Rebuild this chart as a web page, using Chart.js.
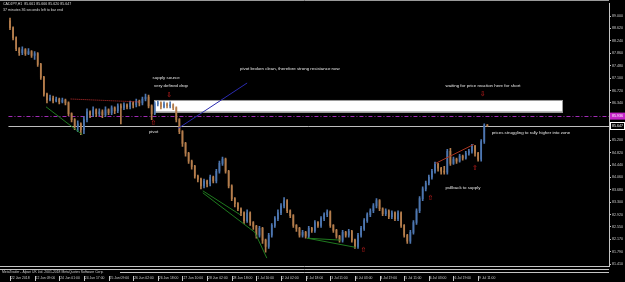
<!DOCTYPE html>
<html>
<head>
<meta charset="utf-8">
<title>CADJPY,H1</title>
<script src="https://cdn.jsdelivr.net/npm/chart.js@4.4.1/dist/chart.umd.min.js"></script>
<style>
  html, body { margin: 0; padding: 0; background: #000; }
</style>
</head>
<body>
<canvas id="myChart" width="625" height="282"></canvas>
<script>
// CADJPY H1 candles (one entry per bar)
var open = [88.85, 88.64, 88.33, 88.00, 87.88, 87.97, 87.85, 87.91, 87.79, 87.85,
  87.52, 87.12, 86.61, 86.43, 86.49, 86.40, 86.46, 86.37, 86.43, 86.34,
  86.01, 85.83, 85.61, 85.70, 85.52, 85.83, 86.07, 85.98, 86.13, 86.01,
  86.07, 85.98, 86.13, 86.04, 86.19, 86.10, 86.25, 86.19, 86.28, 86.22,
  86.34, 86.28, 86.40, 86.34, 86.46, 86.52, 86.25, 86.01, 86.31, 86.34,
  86.22, 86.31, 86.25, 86.28, 86.19, 85.83, 85.46, 85.10, 84.80, 84.56,
  84.40, 84.10, 84.01, 83.80, 83.95, 83.86, 84.07, 83.95, 84.25, 84.49,
  84.62, 84.25, 83.80, 83.41, 83.26, 83.10, 82.98, 82.74, 82.98, 82.68,
  82.56, 82.29, 82.50, 82.14, 81.95, 82.29, 82.59, 82.80, 82.98, 83.19,
  83.35, 83.04, 82.89, 82.59, 82.50, 82.29, 82.38, 82.26, 82.50, 82.44,
  82.68, 82.59, 82.80, 82.92, 83.01, 82.59, 82.44, 82.26, 82.14, 82.38,
  82.29, 82.41, 82.14, 81.95, 82.29, 82.50, 82.74, 82.92, 83.04, 83.19,
  83.35, 83.10, 82.95, 83.04, 82.86, 82.98, 82.80, 82.98, 82.59, 82.29,
  82.11, 82.38, 82.68, 83.04, 83.41, 83.71, 83.89, 84.07, 84.25, 84.46,
  84.34, 84.25, 84.22, 84.86, 84.49, 84.62, 84.56, 84.71, 84.65, 84.80,
  84.86, 85.01, 84.80, 84.62, 85.16, 85.661];

var high = [88.94, 88.67, 88.36, 88.03, 88.06, 88.00, 88.00, 87.94, 87.91, 87.88,
  87.55, 87.15, 86.64, 86.58, 86.55, 86.52, 86.49, 86.49, 86.46, 86.37,
  86.04, 85.86, 85.79, 85.73, 85.92, 86.16, 86.10, 86.22, 86.16, 86.16,
  86.13, 86.22, 86.16, 86.25, 86.22, 86.31, 86.31, 86.34, 86.31, 86.40,
  86.37, 86.46, 86.43, 86.52, 86.61, 86.58, 86.28, 86.37, 86.40, 86.37,
  86.37, 86.34, 86.37, 86.31, 86.22, 85.86, 85.49, 85.13, 84.83, 84.59,
  84.43, 84.13, 84.04, 84.01, 83.98, 84.13, 84.10, 84.31, 84.56, 84.68,
  84.65, 84.28, 83.83, 83.44, 83.29, 83.13, 83.01, 83.07, 83.01, 82.71,
  82.59, 82.56, 82.53, 82.17, 82.35, 82.65, 82.86, 83.07, 83.26, 83.44,
  83.38, 83.07, 82.92, 82.62, 82.53, 82.44, 82.41, 82.56, 82.53, 82.74,
  82.71, 82.86, 82.98, 83.07, 83.04, 82.62, 82.47, 82.29, 82.44, 82.41,
  82.47, 82.44, 82.17, 82.35, 82.56, 82.80, 82.98, 83.10, 83.26, 83.41,
  83.38, 83.13, 83.10, 83.07, 83.04, 83.01, 83.04, 83.01, 82.62, 82.32,
  82.44, 82.74, 83.10, 83.47, 83.77, 83.95, 84.13, 84.31, 84.53, 84.49,
  84.37, 84.40, 84.92, 84.95, 84.68, 84.65, 84.77, 84.74, 84.86, 84.92,
  85.07, 85.04, 84.83, 85.22, 85.70, 85.666];

var low = [88.58, 88.27, 87.94, 87.79, 87.82, 87.79, 87.82, 87.73, 87.67, 87.46,
  87.06, 86.55, 86.34, 86.40, 86.34, 86.37, 86.31, 86.34, 86.28, 85.95,
  85.76, 85.52, 85.46, 85.37, 85.40, 85.76, 85.89, 85.92, 85.92, 85.95,
  85.89, 85.92, 85.98, 85.98, 86.01, 86.04, 85.70, 86.13, 86.16, 86.16,
  86.19, 86.22, 86.25, 86.28, 86.40, 86.19, 85.83, 85.98, 86.25, 86.16,
  86.19, 86.19, 86.19, 86.13, 85.76, 85.40, 85.01, 84.71, 84.49, 84.31,
  84.04, 83.92, 83.71, 83.74, 83.77, 83.80, 83.89, 83.89, 84.19, 84.43,
  84.19, 83.74, 83.35, 83.16, 83.04, 82.89, 82.65, 82.68, 82.59, 82.47,
  82.20, 82.23, 82.04, 81.77, 81.89, 82.23, 82.53, 82.74, 82.92, 83.13,
  82.98, 82.83, 82.53, 82.41, 82.23, 82.23, 82.20, 82.20, 82.38, 82.38,
  82.53, 82.53, 82.74, 82.86, 82.53, 82.38, 82.20, 82.08, 82.08, 82.23,
  82.23, 82.08, 81.89, 81.89, 82.23, 82.44, 82.68, 82.86, 82.98, 83.13,
  83.04, 82.89, 82.89, 82.80, 82.80, 82.74, 82.74, 82.53, 82.23, 82.04,
  82.04, 82.32, 82.62, 82.98, 83.35, 83.65, 83.83, 84.01, 84.19, 84.25,
  84.16, 84.16, 84.16, 84.43, 84.46, 84.49, 84.53, 84.59, 84.62, 84.74,
  84.80, 84.71, 84.56, 84.56, 85.10, 85.620];

var close = [88.64, 88.33, 88.00, 87.88, 87.97, 87.85, 87.91, 87.79, 87.85, 87.52,
  87.12, 86.61, 86.43, 86.49, 86.40, 86.46, 86.37, 86.43, 86.34, 86.01,
  85.83, 85.61, 85.70, 85.52, 85.83, 86.07, 85.98, 86.13, 86.01, 86.07,
  85.98, 86.13, 86.04, 86.19, 86.10, 86.25, 86.19, 86.28, 86.22, 86.34,
  86.28, 86.40, 86.34, 86.46, 86.52, 86.25, 86.01, 86.31, 86.34, 86.22,
  86.31, 86.25, 86.28, 86.19, 85.83, 85.46, 85.10, 84.80, 84.56, 84.40,
  84.10, 84.01, 83.80, 83.95, 83.86, 84.07, 83.95, 84.25, 84.49, 84.62,
  84.25, 83.80, 83.41, 83.26, 83.10, 82.98, 82.74, 82.98, 82.68, 82.56,
  82.29, 82.50, 82.14, 81.95, 82.29, 82.59, 82.80, 82.98, 83.19, 83.35,
  83.04, 82.89, 82.59, 82.50, 82.29, 82.38, 82.26, 82.50, 82.44, 82.68,
  82.59, 82.80, 82.92, 83.01, 82.59, 82.44, 82.26, 82.14, 82.38, 82.29,
  82.41, 82.14, 81.95, 82.29, 82.50, 82.74, 82.92, 83.04, 83.19, 83.35,
  83.10, 82.95, 83.04, 82.86, 82.98, 82.80, 82.98, 82.59, 82.29, 82.11,
  82.38, 82.68, 83.04, 83.41, 83.71, 83.89, 84.07, 84.25, 84.46, 84.34,
  84.25, 84.22, 84.86, 84.49, 84.62, 84.56, 84.71, 84.65, 84.80, 84.86,
  85.01, 84.80, 84.62, 85.16, 85.66, 85.647];

// time axis labels, one every 8 bars here
var timeLabels = ['22 Jun 2018', '22 Jun 09:00', '24 Jun 01:00', '24 Jun 17:00', '25 Jun 09:00',
  '26 Jun 02:00', '26 Jun 18:00', '27 Jun 10:00', '28 Jun 02:00', '28 Jun 18:00',
  '1 Jul 10:00', '2 Jul 02:00', '2 Jul 18:00', '3 Jul 11:00', '4 Jul 03:00',
  '4 Jul 19:00', '5 Jul 11:00', '6 Jul 03:00', '6 Jul 19:00', '9 Jul 11:00'];
var labelEvery = 8;
var totalSlots = 195;

// right price scale
var priceTicks = [89.000, 88.620, 88.240, 87.860, 87.480, 87.100, 86.720, 86.340,
  85.200, 84.820, 84.440, 84.060, 83.680, 83.300, 82.920, 82.550, 82.170, 81.790, 81.410];

var bidPrice = 85.647;
var levelPrice = 85.936;
var zone = { fromBar: 46.9, toBar: 179.5, top: 86.43, bottom: 86.07 };

var notes = [
  { text: 'supply source', bar: 50.7, price: 87.10, align: 'center' },
  { text: 'very defined drop', bar: 52.3, price: 86.85, align: 'center' },
  { text: 'pivot broken clean, therefore strong resistance now', bar: 74.7, price: 87.37, align: 'left' },
  { text: 'pivot', bar: 46.6, price: 85.46, align: 'center' },
  { text: 'waiting for price reaction here for short', bar: 141.4, price: 86.85, align: 'left' },
  { text: 'prices struggling to rally higher into zone', bar: 156.4, price: 85.43, align: 'left' },
  { text: 'pullback to supply', bar: 141.4, price: 83.74, align: 'left' }
];

var arrows = [
  { bar: 51.7, price: 86.58, glyph: '\u21e9' },
  { bar: 46.6, price: 85.73, glyph: '\u21e7' },
  { bar: 153.5, price: 86.61, glyph: '\u21e9' },
  { bar: 114.8, price: 81.83, glyph: '\u21e7' },
  { bar: 136.5, price: 83.41, glyph: '\u21e7' },
  { bar: 151.0, price: 84.34, glyph: '\u21e7' }
];

var trendLines = [
  { pts: [[54.6, 85.56], [77.0, 86.95]], color: '#2b2bb0' },
  { pts: [[19.7, 86.46], [42.1, 86.37]], color: '#c83030', dash: [1, 1] },
  { pts: [[11.7, 86.22], [23.5, 85.37]], color: '#1f7a1f' },
  { pts: [[62.6, 83.65], [74.7, 82.92]], color: '#1f7a1f' },
  { pts: [[62.6, 83.59], [79.5, 82.38], [83.4, 81.59]], color: '#1f7a1f' },
  { pts: [[96.5, 82.20], [107.4, 82.14]], color: '#1f7a1f' },
  { pts: [[96.5, 82.20], [112.2, 81.92]], color: '#1f7a1f' },
  { pts: [[138.2, 84.49], [150.6, 85.07]], color: '#a83420' }
];

var upColor = '#4d76b0';
var downColor = '#b47d4c';
var font = 'Liberation Sans, Arial, sans-serif';

function candleColor(ctx) {
  var i = ctx.dataIndex;
  return close[i] >= open[i] ? upColor : downColor;
}

var overlay = {
  id: 'mt4Overlay',
  beforeDraw: function (chart) {
    var c = chart.ctx;
    c.save();
    c.fillStyle = '#000';
    c.fillRect(0, 0, chart.width, chart.height);
    c.restore();
  },
  beforeDatasetsDraw: function (chart) {
    var c = chart.ctx, xs = chart.scales.x, ys = chart.scales.y, a = chart.chartArea;
    c.save();
    // supply zone
    var x1 = xs.getPixelForValue(zone.fromBar), x2 = xs.getPixelForValue(zone.toBar);
    var y1 = ys.getPixelForValue(zone.top), y2 = ys.getPixelForValue(zone.bottom);
    c.fillStyle = '#ffffff';
    c.fillRect(x1, y1, x2 - x1, y2 - y1);
    c.strokeStyle = '#9a9a9a';
    c.lineWidth = 1;
    c.strokeRect(Math.round(x1) + 0.5, Math.round(y1) + 0.5, Math.round(x2 - x1), Math.round(y2 - y1));

    // dash-dot level
    var ly = Math.round(ys.getPixelForValue(levelPrice)) + 0.5;
    c.strokeStyle = '#a02cb4';
    c.setLineDash([4, 2, 1, 2]);
    c.beginPath(); c.moveTo(a.left, ly); c.lineTo(a.right, ly); c.stroke();
    c.setLineDash([]);

    // bid line
    var by = Math.round(ys.getPixelForValue(bidPrice)) + 0.5;
    c.strokeStyle = '#bdbdbd';
    c.beginPath(); c.moveTo(a.left, by); c.lineTo(a.right, by); c.stroke();
    c.restore();
  },
  afterDatasetsDraw: function (chart) {
    var c = chart.ctx, xs = chart.scales.x, ys = chart.scales.y;
    c.save();
    c.lineWidth = 1;
    trendLines.forEach(function (t) {
      c.strokeStyle = t.color;
      c.setLineDash(t.dash || []);
      c.beginPath();
      t.pts.forEach(function (p, k) {
        var px = xs.getPixelForValue(p[0]), py = ys.getPixelForValue(p[1]);
        if (k === 0) c.moveTo(px, py); else c.lineTo(px, py);
      });
      c.stroke();
    });
    c.setLineDash([]);
    c.restore();
  },
  afterDraw: function (chart) {
    var c = chart.ctx, xs = chart.scales.x, ys = chart.scales.y, a = chart.chartArea;
    c.save();

    // notes
    c.fillStyle = '#e6e6e6';
    c.font = '4.4px ' + font;
    c.textBaseline = 'middle';
    notes.forEach(function (n) {
      c.textAlign = n.align;
      c.fillText(n.text, xs.getPixelForValue(n.bar), ys.getPixelForValue(n.price));
    });

    // fractal arrows
    c.fillStyle = '#d82020';
    c.font = '7px DejaVu Sans';
    c.textAlign = 'center';
    arrows.forEach(function (ar) {
      c.fillText(ar.glyph, xs.getPixelForValue(ar.bar), ys.getPixelForValue(ar.price));
    });

    // header
    c.fillStyle = '#d8d8d8';
    c.font = '3.6px ' + font;
    c.textAlign = 'left';
    c.fillText('CADJPY,H1  85.661 85.666 85.620 85.647', 3, 4);
    c.fillText('37 minutes 36 seconds left to bar end', 3, 9.5);

    // frame
    c.strokeStyle = '#9a9a9a';
    c.lineWidth = 1;
    c.beginPath(); c.moveTo(0, 0.5); c.lineTo(a.right, 0.5); c.stroke();

    // sub-window separators
    c.strokeStyle = '#c4c4c4';
    [266.5, 269.5, 272.5].forEach(function (yy) {
      c.beginPath(); c.moveTo(0, yy); c.lineTo(a.right, yy); c.stroke();
    });
    c.fillStyle = '#000';
    c.fillRect(0, 270, 120, 5);
    c.fillStyle = '#d0d0d0';
    c.font = '3.4px ' + font;
    c.fillText('MetaTrader - Alpari UK Ltd. 2001-2018 MetaQuotes Software Corp.', 2, 272.5);

    // time tick marks
    c.strokeStyle = '#c4c4c4';
    timeLabels.forEach(function (t, k) {
      var tx = Math.round(xs.getPixelForValue(k * labelEvery)) + 0.5;
      c.beginPath(); c.moveTo(tx, 276); c.lineTo(tx, 281); c.stroke();
    });

    // price boxes on the axis
    var ly = ys.getPixelForValue(levelPrice);
    c.fillStyle = '#c424c8';
    c.fillRect(a.right + 1, ly - 3.5, 15, 7);
    c.fillStyle = '#ffffff';
    c.font = '3.6px ' + font;
    c.textAlign = 'left';
    c.fillText(levelPrice.toFixed(3), a.right + 3, ly);

    var by = ys.getPixelForValue(bidPrice);
    c.fillStyle = '#000';
    c.fillRect(a.right + 1, by - 3.5, 15, 7);
    c.strokeStyle = '#ffffff';
    c.strokeRect(a.right + 1.5, Math.round(by - 3.5) + 0.5, 14, 7);
    c.fillStyle = '#ffffff';
    c.fillText(bidPrice.toFixed(3), a.right + 3, by);
    c.restore();
  }
};

var bars = open.map(function (o, i) { return i; });

var ctx = document.getElementById('myChart').getContext('2d');
var chart = new Chart(ctx, {
  type: 'bar',
  data: {
    datasets: [
      {
        label: 'wick',
        data: bars.map(function (i) { return { x: i, y: [low[i], high[i]] }; }),
        backgroundColor: candleColor,
        barThickness: 1,
        grouped: false,
        order: 2
      },
      {
        label: 'body',
        data: bars.map(function (i) { return { x: i, y: [open[i], close[i]] }; }),
        backgroundColor: candleColor,
        barThickness: 1,
        minBarLength: 1,
        grouped: false,
        order: 1
      }
    ]
  },
  options: {
    responsive: false,
    animation: false,
    devicePixelRatio: 1,
    layout: { padding: 0 },
    plugins: { legend: { display: false }, tooltip: { enabled: false } },
    scales: {
      x: {
        type: 'linear',
        min: -0.5,
        max: totalSlots - 0.5,
        offset: false,
        grid: { display: false, drawTicks: false },
        border: { display: false },
        afterBuildTicks: function (s) {
          s.ticks = timeLabels.map(function (t, k) { return { value: k * labelEvery }; });
        },
        afterFit: function (s) { s.height = 16; },
        ticks: {
          autoSkip: false,
          maxRotation: 0,
          align: 'start',
          padding: 10,
          color: '#cccccc',
          font: { family: font, size: 3.4 },
          callback: function (v, k) { return ' ' + timeLabels[k]; }
        }
      },
      y: {
        position: 'right',
        min: 81.349,
        max: 89.393,
        grid: { drawOnChartArea: false, color: '#c4c4c4', tickLength: 2 },
        border: { color: '#c4c4c4' },
        afterBuildTicks: function (s) {
          s.ticks = priceTicks.map(function (v) { return { value: v }; });
        },
        afterFit: function (s) { s.width = 16; },
        ticks: {
          autoSkip: false,
          padding: 1,
          color: '#cccccc',
          font: { family: font, size: 3.6 },
          callback: function (v) { return v.toFixed(3); }
        }
      }
    }
  },
  plugins: [overlay]
});
</script>
</body>
</html>
